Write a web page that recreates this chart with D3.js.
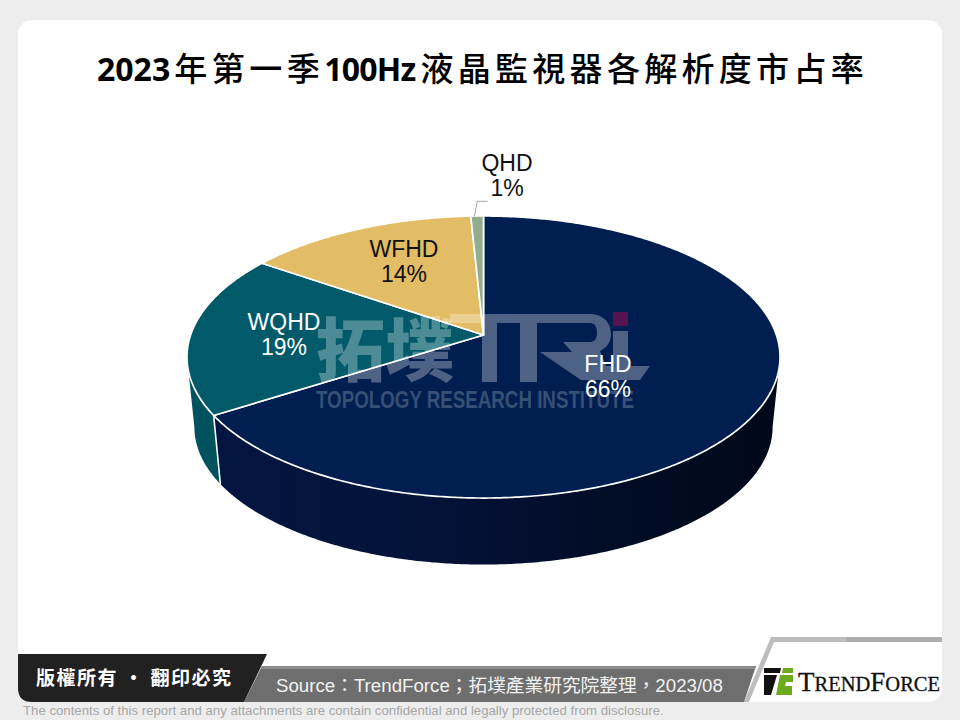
<!DOCTYPE html>
<html><head><meta charset="utf-8">
<script src="https://cdn.jsdelivr.net/npm/d3@7"></script>
<style>html,body{margin:0;padding:0;background:#ededed}svg{display:block}</style>
</head><body><svg id="c" width="960" height="720"></svg>
<script>
const titleParts = ["2023","年第一季","100Hz","液晶監視器各解析度市占率"];
const categories = ["FHD","WQHD","WFHD","QHD"];
const shares = [66, 18.6, 14.6, 0.8];
const shareLabels = ["66%","19%","14%","1%"];
const sourceText = "Source：TrendForce；拓墣產業研究院整理，2023/08";
const copyrightText = "版權所有 · 翻印必究";
const disclaimerText = "The contents of this report and any attachments are contain confidential and legally protected from disclosure.";

const topColors = ["#001f50","#005a6a","#e3bc66","#8fae8e"];
const sideColors = ["#001541","#00525e"];
const labelColors = ["#fff","#fff","#111","#111"];
const labelAt = [[608,364],[284,322],[404,249],[507,163]];
const sans = '"Liberation Sans","Noto Sans CJK TC",sans-serif';
const cjk = '"Noto Sans CJK TC","Liberation Sans",sans-serif';

const svg = d3.select("#c");
svg.append("rect").attr("width",960).attr("height",720).attr("fill","#ededed");
svg.append("rect").attr("x",18).attr("y",20).attr("width",924).attr("height",682).attr("rx",14).attr("fill","#fff");

const titleStyle=[{dx:0,ls:0},{dx:4,ls:4.5},{dx:0,ls:-0.8},{dx:5,ls:4.3}];
const title=svg.append("text").attr("x",97).attr("y",81).attr("fill","#000");
titleParts.forEach((s,i)=>{
  const latin=i%2===0;
  title.append("tspan").text(s)
    .attr("dx",titleStyle[i].dx)
    .attr("font-family",latin?'"Noto Sans",sans-serif':cjk)
    .attr("font-weight",latin?700:500)
    .attr("font-size",latin?32:33)
    .attr("letter-spacing",titleStyle[i].ls);
});

// perspective projection of the disc
const cx=483.5, cyTop=335, A=137.6, B=292.9, p=0.156, depth=0.975, cyLow=405.6;
const rim=(t,low)=>{const u=Math.sin(t),v=Math.cos(t),w=1+p*v,s=low?depth:1;
  return [cx+s*B*u/w,(low?cyLow:cyTop)-s*A*v/w];};
const pie=d3.pie().sort(null).value(d=>d)(shares);
const line=d3.line();
const step=Math.PI/360;
const angles=(a,b)=>{const n=Math.max(2,Math.ceil((b-a)/step));return d3.range(n+1).map(i=>a+(b-a)*i/n);};

// silhouette angles: where the disc outline is widest
const tangentR=Math.acos(-p), tangentL=2*Math.PI-tangentR;

const defs=svg.append("defs");
const grad=defs.append("linearGradient").attr("id","fhdSide").attr("gradientUnits","userSpaceOnUse")
  .attr("x1",215).attr("x2",780).attr("y1",0).attr("y2",0);
[[0,"#021542"],[0.3,"#04143a"],[0.55,"#040f30"],[0.75,"#000c24"],[1,"#000919"]].forEach(([o,c])=>
  grad.append("stop").attr("offset",o).attr("stop-color",c));

const gSide=svg.append("g");
const wall=(a,b,fill)=>{
  const as=angles(a,b);
  const pts=[...as.map(t=>rim(t,false)),...as.slice().reverse().map(t=>rim(t,true))];
  gSide.append("path").attr("d",line(pts)+"Z").attr("fill",fill);
};
wall(tangentR,pie[0].endAngle,"url(#fhdSide)");
wall(pie[1].startAngle,tangentL,sideColors[1]);
gSide.append("path").attr("d",line([rim(pie[0].endAngle,false),rim(pie[0].endAngle,true)]))
  .attr("stroke","#fff").attr("stroke-width",1.6).attr("fill","none");

const gTop=svg.append("g");
pie.forEach((s,i)=>{
  const pts=angles(s.startAngle,s.endAngle).map(t=>rim(t,false));
  gTop.append("path").attr("d",line([[cx,cyTop],...pts])+"Z").attr("fill",topColors[i])
    .attr("stroke","#fff").attr("stroke-width",1.7).attr("stroke-linejoin","round");
});

// watermark (sits above the pie, white and translucent)
const wm=svg.append("g").attr("fill","#fff").attr("fill-opacity",0.3);
wm.append("text").text("拓墣").attr("x",316).attr("y",376).attr("font-family",cjk).attr("font-weight",900).attr("font-size",69);
wm.append("text").text("TOPOLOGY RESEARCH INSTITUTE").attr("x",316).attr("y",408).attr("font-family",sans).attr("font-weight",700)
  .attr("font-size",23).attr("fill-opacity",0.22).attr("textLength",318).attr("lengthAdjust","spacingAndGlyphs");
wm.append("path").attr("d","M450 314H590C603 314 611 323 611 334C611 343 606 348 600 351L606 366H613V331H628V366H650L640 380H581L540 352H572L563 342H590C595 342 597 338 597 333C597 327 595 323 590 323H537V382H520V323H497V382H482V323H450Z");
svg.append("rect").attr("x",613).attr("y",312).attr("width",15).attr("height",14).attr("fill","#551450");

// labels
categories.forEach((c,i)=>{
  const [x,y]=labelAt[i];
  const t=svg.append("text").attr("text-anchor","middle").attr("font-family",sans).attr("font-size",23).attr("fill",labelColors[i]);
  t.append("tspan").attr("x",x).attr("y",y+8).text(c);
  t.append("tspan").attr("x",x).attr("y",y+33).text(shareLabels[i]);
});
svg.append("path").attr("d","M487.7 201.3H477.3L474.3 216.7").attr("fill","none").attr("stroke","#a6a6a6").attr("stroke-width",1);

// footer
svg.append("path").attr("d","M771 637H942V642H774L749 702H744Z").attr("fill","#bdbdbd");
svg.append("path").attr("d","M846 637H942V642H846Z").attr("fill","#adadad");
svg.append("path").attr("d","M262 666H756L744 702H244Z").attr("fill","#6e6e6e");
svg.append("path").attr("d","M262 666H756L755 669H261Z").attr("fill","#8c8c8c");
svg.append("path").attr("d","M18 654H267L244 702H32Q18 702 18 688Z").attr("fill","#212121");
svg.append("text").text(copyrightText).attr("x",36).attr("y",685).attr("font-family",cjk).attr("font-weight",700).attr("font-size",19)
  .attr("textLength",195).attr("fill","#fff");
svg.append("text").text(sourceText).attr("x",276).attr("y",692).attr("font-family",sans).attr("font-size",18.7).attr("fill","#f2f2f2");
svg.append("text").text(disclaimerText).attr("x",23).attr("y",715).attr("font-family",sans).attr("font-size",13.2).attr("fill","#a6a6a6");
// logo
svg.append("path").attr("d","M764 668H781L780 673H764Z M764 675H777L771 695H764Z").attr("fill","#111");
svg.append("path").attr("d","M783 668H793V673H782Z M780 675H793V682H786L785 686H792V695H776Z").attr("fill","#6eaa1e");
const lt=svg.append("text").attr("x",798).attr("y",691).attr("font-family",'"Liberation Serif",serif').attr("fill","#111").attr("stroke","#111").attr("stroke-width",0.3);
[["T",27],["REND",20.5],["F",27],["ORCE",20.5]].forEach(([s,z])=>lt.append("tspan").attr("font-size",z).text(s));
</script></body></html>
